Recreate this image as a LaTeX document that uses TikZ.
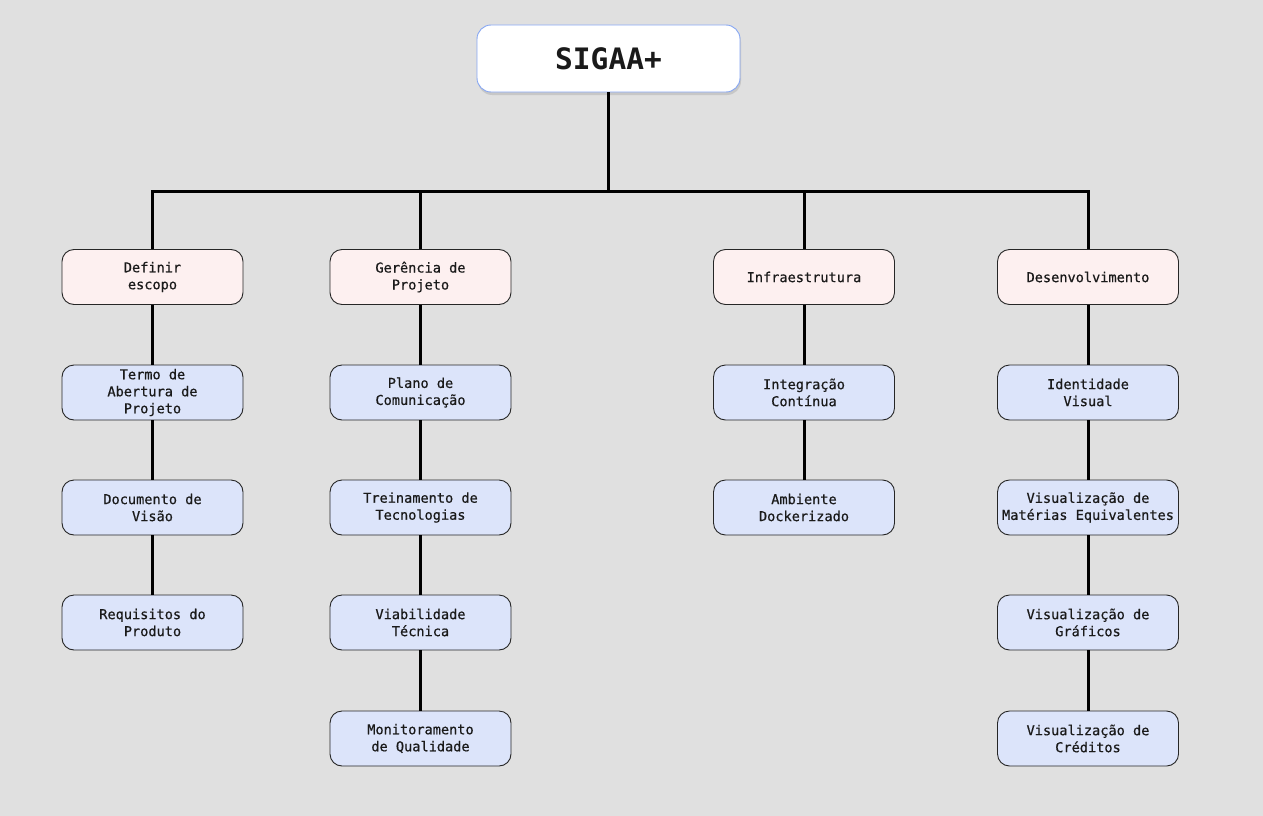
\documentclass[tikz,border=0pt]{standalone}
\usepackage{fontspec}
\newfontfamily\wbsfont[FakeBold=0.6]{DejaVu Sans Mono}
\newfontfamily\rootfont{DejaVu Sans Mono}
\usetikzlibrary{positioning,shadows}
\definecolor{pagebg}{HTML}{E0E0E0}
\definecolor{catfill}{HTML}{FDF0F0}
\definecolor{leaffill}{HTML}{DCE4FA}
\definecolor{rootline}{HTML}{86A6F2}
\definecolor{inktext}{HTML}{1A1A1A}
\tikzset{
  basebox/.style={rectangle, rounded corners=12pt, draw=black!85, line width=0.9pt,
    minimum width=181pt, minimum height=55pt, inner sep=2pt, align=center, text=inktext,
    font=\wbsfont\fontsize{13.6}{17}\selectfont},
  catbox/.style={basebox, fill=catfill},
  leafbox/.style={basebox, fill=leaffill},
  rootbox/.style={rectangle, rounded corners=14pt, draw=rootline, line width=0.9pt, fill=white,
    minimum width=263pt, minimum height=67pt, text=inktext,
    drop shadow={opacity=0.25, shadow xshift=1pt, shadow yshift=-3pt},
    font=\rootfont\bfseries\fontsize{29.5}{34}\selectfont},
  link/.style={line width=3pt, black}
}
\begin{document}
\begin{tikzpicture}[x=1pt,y=-1pt]
\fill[pagebg] (0,0) rectangle (1263,816);
\useasboundingbox (0,0) rectangle (1263,816);

% root of the tree
\node[rootbox] (root) at (608.5,58.5) {SIGAA+};
\coordinate (bar) at (608.5,191);

% the four work packages
\foreach \i/\x/\txt in {1/152.5/{Definir\\escopo}, 2/420.5/{Gerência de\\Projeto},
                        3/804/{Infraestrutura}, 4/1088/{Desenvolvimento}} {
    \node[catbox] (c\i) at (\x,277) {\txt};
}

% deliverables below each package
\foreach \i/\j/\y/\txt in {1/1/392.5/{Termo de\\Abertura de\\Projeto}, 1/2/507.5/{Documento de\\Visão},
                           1/3/622.5/{Requisitos do\\Produto}} {
    \node[leafbox] (l\i\j) at (c\i |- 0,\y) {\txt};
}
\foreach \i/\j/\y/\txt in {2/1/392.5/{Plano de\\Comunicação}, 2/2/507.5/{Treinamento de\\Tecnologias},
                           2/3/622.5/{Viabilidade\\Técnica}, 2/4/738.5/{Monitoramento\\de Qualidade}} {
    \node[leafbox] (l\i\j) at (c\i |- 0,\y) {\txt};
}
\foreach \i/\j/\y/\txt in {3/1/392.5/{Integração\\Contínua}, 3/2/507.5/{Ambiente\\Dockerizado}} {
    \node[leafbox] (l\i\j) at (c\i |- 0,\y) {\txt};
}
\foreach \i/\j/\y/\txt in {4/1/392.5/{Identidade\\Visual}, 4/2/507.5/{Visualização de\\Matérias Equivalentes},
                           4/3/622.5/{Visualização de\\Gráficos}, 4/4/738.5/{Visualização de\\Créditos}} {
    \node[leafbox] (l\i\j) at (c\i |- 0,\y) {\txt};
}

% connectors
\draw[link] (root.south) -- (bar);
\foreach \i in {1,...,4} {
    \draw[link] (bar) -| (c\i.north);
}
\draw[link] (c1) -- (l11);
\draw[link] (l11) -- (l12);
\draw[link] (l12) -- (l13);
\draw[link] (c2) -- (l21);
\draw[link] (l21) -- (l22);
\draw[link] (l22) -- (l23);
\draw[link] (l23) -- (l24);
\draw[link] (c3) -- (l31);
\draw[link] (l31) -- (l32);
\draw[link] (c4) -- (l41);
\draw[link] (l41) -- (l42);
\draw[link] (l42) -- (l43);
\draw[link] (l43) -- (l44);
\end{tikzpicture}
\end{document}
